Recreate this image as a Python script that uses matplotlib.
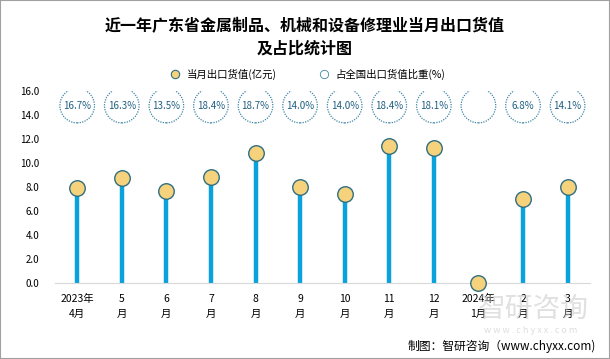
import matplotlib
matplotlib.use("Agg")
import matplotlib.pyplot as plt
from matplotlib.lines import Line2D

plt.rcParams['font.family'] = ['Noto Sans CJK SC', 'DejaVu Sans']

months = ["2023年\n4月", "5\n月", "6\n月", "7\n月", "8\n月", "9\n月",
          "10\n月", "11\n月", "12\n月", "2024年\n1月", "2\n月", "3\n月"]
export_value = [7.94, 8.78, 7.67, 8.81, 10.86, 7.97, 7.42, 11.44, 11.28, 0.02, 7.0, 8.03]
share_pct = ["16.7%", "16.3%", "13.5%", "18.4%", "18.7%", "14.0%", "14.0%",
             "18.4%", "18.1%", "", "6.8%", "14.1%"]
yticks = [0, 2, 4, 6, 8, 10, 12, 14, 16]

stem_color = "#0AA2DC"
dot_face = "#F6D27C"
dot_edge = "#2F6F82"
ring_color = "#3F86A6"
text_color = "#1F5F80"

fig = plt.figure(figsize=(6.1, 3.59), dpi=100)
ax = fig.add_axes([0.090, 0.2117, 0.877, 0.535])

x = list(range(len(months)))
ax.vlines(x, 0, export_value, color=stem_color, linewidth=3.2, zorder=2)
ax.scatter(x, export_value, s=125, color=dot_face, edgecolors=dot_edge,
           linewidths=1.0, zorder=3, clip_on=False)

ring_y = [14.78] * len(x)
ax.scatter(x, ring_y, s=620, facecolors="none", edgecolors=ring_color,
           linewidths=0.9, linestyles=(0, (1, 1)), zorder=3)
for xi, t in zip(x, share_pct):
    ax.text(xi, 14.78, t, ha="center", va="center", fontsize=7,
            color=text_color, zorder=4)

ax.set_xlim(-0.5, len(x) - 0.5)
ax.set_ylim(0, 16)
ax.set_yticks(yticks)
ax.set_yticklabels([f"{v:.1f}" for v in yticks], fontsize=7)
ax.set_xticks(x)
ax.set_xticklabels(months, fontsize=7.5, linespacing=1.6)
ax.tick_params(length=0, pad=8)
ax.tick_params(axis="y", pad=11)
for s in ["top", "right", "left"]:
    ax.spines[s].set_visible(False)
ax.spines["bottom"].set_color("#D9D9D9")
ax.spines["bottom"].set_linewidth(0.8)

fig.text(0.5, 0.928, "近一年广东省金属制品、机械和设备修理业当月出口货值",
         ha="center", va="center", fontsize=11.5, fontweight="bold")
fig.text(0.5, 0.866, "及占比统计图", ha="center", va="center",
         fontsize=11.5, fontweight="bold")

handles = [
    Line2D([], [], marker="o", linestyle="none", markersize=6,
           markerfacecolor=dot_face, markeredgecolor=dot_edge, markeredgewidth=0.8),
    Line2D([], [], marker="o", linestyle="none", markersize=6,
           markerfacecolor="none", markeredgecolor=ring_color, markeredgewidth=0.6),
]
fig.legend(handles, ["当月出口货值(亿元)", "占全国出口货值比重(%)"],
           loc="center", bbox_to_anchor=(0.5, 0.794), ncol=2, frameon=False,
           fontsize=7.5, handletextpad=0.1, columnspacing=3.5)

# watermark
fig.text(0.875, 0.14, "智研咨询", ha="center", va="center", fontsize=20,
         color="#C8C8C8", alpha=0.55, zorder=0)
fig.text(0.87, 0.078, "w w w . c h y x x . c o m", ha="center", va="center",
         fontsize=6.5, color="#C8C8C8", alpha=0.6, zorder=0)

fig.text(0.977, 0.036, "制图：智研咨询（www.chyxx.com)", ha="right", va="center",
         fontsize=8.5)

fig.patches.append(plt.Rectangle((0, 0), 1, 1, transform=fig.transFigure,
                                 fill=False, edgecolor="#A0A0A0", linewidth=1.5))

fig.savefig("out.png", dpi=100)
